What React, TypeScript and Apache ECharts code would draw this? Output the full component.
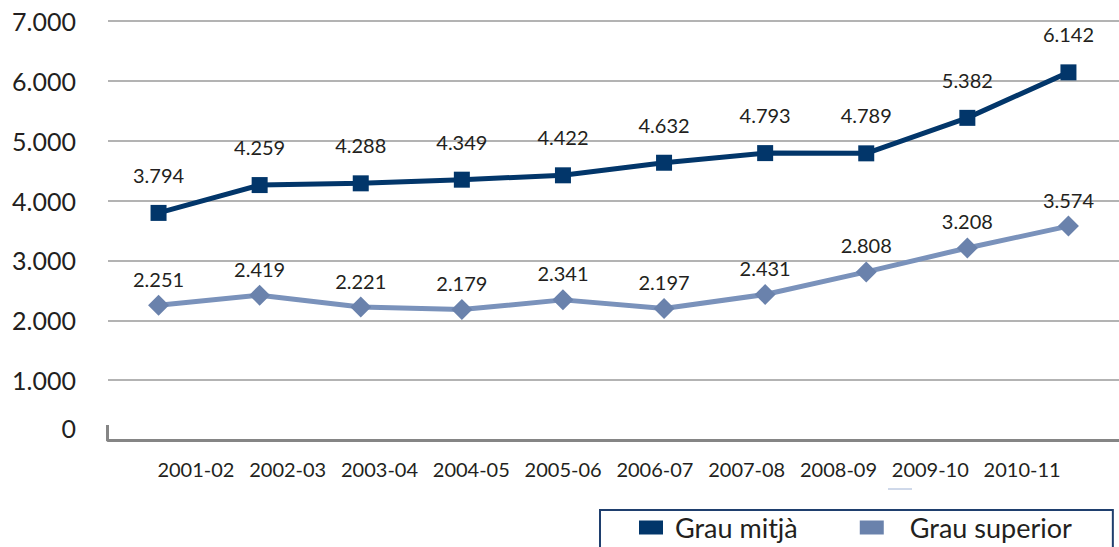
import React, { useEffect, useRef } from "react";
import * as echarts from "echarts";

const categories = ["2001-02", "2002-03", "2003-04", "2004-05", "2005-06", "2006-07", "2007-08", "2008-09", "2009-10", "2010-11"];
const grauMitja = [3794, 4259, 4288, 4349, 4422, 4632, 4793, 4789, 5382, 6142];
const grauSuperior = [2251, 2419, 2221, 2179, 2341, 2197, 2431, 2808, 3208, 3574];
const seriesNames = ["Grau mitjà", "Grau superior"];
const yMax = 7000;
const yInterval = 1000;

const FONT = "Lato, 'Open Sans', sans-serif";
const TEXT = "#231f20";
const DARK = "#02366a";
const LIGHT_LINE = "#7a92bb";
const LIGHT_MARK = "#6a82ac";
const AXIS_GREY = "#858585";

function fmt(v: number): string {
  if (v === 0) return "0";
  const th = Math.floor(v / 1000);
  const rest = String(v % 1000).padStart(3, "0");
  return th + "." + rest;
}

export default function App() {
  const ref = useRef<HTMLDivElement>(null);
  useEffect(() => {
    if (!ref.current) return;
    const chart = echarts.init(ref.current, undefined, { renderer: "svg" });
    chart.setOption({
      animation: false,
      backgroundColor: "#ffffff",
      textStyle: { fontFamily: FONT },
      grid: [
        { left: 108, right: -4, top: 21, bottom: 107 },
        { left: 150, right: 51, top: 21, bottom: 107 },
      ],
      xAxis: [
        {
          type: "category",
          gridIndex: 0,
          data: categories,
          boundaryGap: true,
          axisLine: { show: true, lineStyle: { color: AXIS_GREY, width: 3 } },
          axisTick: { show: false },
          axisLabel: { show: false },
          splitLine: { show: false },
        },
        {
          type: "category",
          gridIndex: 1,
          data: categories,
          boundaryGap: true,
          axisLine: { show: false },
          axisTick: { show: false },
          axisLabel: { show: true, interval: 0, color: TEXT, fontSize: 20, fontFamily: FONT, margin: 19 },
          splitLine: { show: false },
        },
      ],
      yAxis: [
        {
          type: "value",
          gridIndex: 0,
          min: 0,
          max: yMax,
          interval: yInterval,
          axisLine: { show: false },
          axisTick: { show: false },
          axisLabel: {
            color: TEXT,
            fontSize: 25,
            fontFamily: FONT,
            margin: 32,
            formatter: (v: number) => (v === 0 ? "{z|0}" : fmt(v)),
            rich: { z: { fontSize: 25, fontFamily: FONT, color: TEXT, padding: [0, 0, 24, 0] } },
          },
          splitLine: { show: true, lineStyle: { color: "#9a9a9a", width: 1.5 } },
        },
        {
          type: "value",
          gridIndex: 1,
          min: 0,
          max: yMax,
          interval: yInterval,
          show: false,
          axisLine: { show: false },
          axisTick: { show: false },
          axisLabel: { show: false },
          splitLine: { show: false },
        },
      ],
      legend: {
        data: [
          { name: seriesNames[0], textStyle: { padding: [0, 0, 0, 7] } },
          { name: seriesNames[1], textStyle: { padding: [0, 0, 0, 21] } },
        ],
        left: 600,
        top: 510,
        orient: "horizontal",
        icon: "rect",
        itemWidth: 24,
        itemHeight: 14,
        itemGap: 62,
        padding: [4, 41, 30, 39],
        borderColor: "#1f3f6e",
        borderWidth: 2,
        textStyle: { color: TEXT, fontSize: 27, fontFamily: FONT },
      },
      graphic: [
        {
          type: "rect",
          shape: { x: 106, y: 425, width: 3, height: 16 },
          style: { fill: "#868686" },
        },
        {
          type: "line",
          shape: { x1: 888, y1: 489, x2: 912, y2: 489 },
          style: { stroke: "#9fb2d4", lineWidth: 1 },
        },
      ],
      series: [
        {
          name: seriesNames[0],
          type: "line",
          xAxisIndex: 0,
          yAxisIndex: 0,
          data: grauMitja,
          symbol: "rect",
          symbolSize: 16,
          lineStyle: { color: DARK, width: 5 },
          itemStyle: { color: DARK },
          label: {
            show: true,
            position: "top",
            distance: 20,
            color: TEXT,
            fontSize: 20,
            fontFamily: FONT,
            formatter: (p: any) => fmt(p.value),
          },
          z: 3,
        },
        {
          name: seriesNames[1],
          type: "line",
          xAxisIndex: 0,
          yAxisIndex: 0,
          data: grauSuperior,
          symbol: "diamond",
          symbolSize: 21,
          lineStyle: { color: LIGHT_LINE, width: 5 },
          itemStyle: { color: LIGHT_MARK },
          label: {
            show: true,
            position: "top",
            distance: 6,
            color: TEXT,
            fontSize: 20,
            fontFamily: FONT,
            formatter: (p: any) => fmt(p.value),
          },
          z: 2,
        },
      ],
    });
    return () => chart.dispose();
  }, []);
  return (
    <div
      ref={ref}
      style={{ position: "absolute", left: 0, top: 0, width: 1119, height: 547 }}
    />
  );
}
